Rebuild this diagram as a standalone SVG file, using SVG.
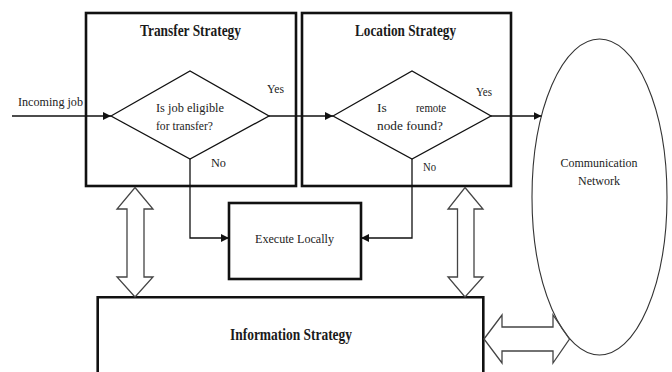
<svg xmlns="http://www.w3.org/2000/svg" width="672" height="372" viewBox="0 0 672 372">
<style>
.box{fill:none;stroke:#111;stroke-width:2.6}
.dia{fill:none;stroke:#111;stroke-width:1.3}
.ln{fill:none;stroke:#111;stroke-width:1.3}
.dbl{fill:none;stroke:#444;stroke-width:1.3;stroke-linejoin:miter}
.t{font-family:"Liberation Serif","Times New Roman",serif;fill:#222}
.title{font-family:"Liberation Serif","Times New Roman",serif;font-weight:bold;fill:#1a1a1a}
</style>
<defs>
<marker id="ah" viewBox="0 0 10 10" refX="10" refY="5" markerWidth="8" markerHeight="8" markerUnits="userSpaceOnUse" orient="auto">
<path d="M0,0 L10,5 L0,10 z" fill="#111"/>
</marker>
</defs>
<rect width="672" height="372" fill="#fff"/>

<g id="transfer">
<rect class="box" x="86" y="13" width="210" height="173"/>
<text class="title" x="140" y="36" font-size="16" textLength="101" lengthAdjust="spacingAndGlyphs">Transfer Strategy</text>
<polygon class="dia" points="111,116 190,71 269,116 190,159"/>
<text class="t" x="156" y="112" font-size="13.5" textLength="68" lengthAdjust="spacingAndGlyphs">Is job eligible</text>
<text class="t" x="156" y="130" font-size="13.5" textLength="57" lengthAdjust="spacingAndGlyphs">for transfer?</text>
<text class="t" x="267" y="93" font-size="13.5" textLength="17" lengthAdjust="spacingAndGlyphs">Yes</text>
<text class="t" x="211" y="167" font-size="13.5" textLength="15" lengthAdjust="spacingAndGlyphs">No</text>
</g>

<g id="location">
<rect class="box" x="302" y="13" width="209" height="173"/>
<text class="title" x="355" y="36" font-size="16" textLength="101" lengthAdjust="spacingAndGlyphs">Location Strategy</text>
<polygon class="dia" points="333,116 412,71 491,116 412,159"/>
<text class="t" y="112" font-size="13.5"><tspan x="377">Is</tspan><tspan x="416" textLength="30" lengthAdjust="spacingAndGlyphs">remote</tspan></text>
<text class="t" x="377" y="130" font-size="13.5" textLength="66" lengthAdjust="spacingAndGlyphs">node found?</text>
<text class="t" x="476" y="96" font-size="13.5" textLength="16" lengthAdjust="spacingAndGlyphs">Yes</text>
<text class="t" x="423" y="171" font-size="13.5" textLength="13" lengthAdjust="spacingAndGlyphs">No</text>
</g>

<g id="execute">
<rect class="box" x="229" y="203" width="132" height="76"/>
<text class="t" x="255" y="243" font-size="13.5" textLength="79" lengthAdjust="spacingAndGlyphs">Execute Locally</text>
</g>

<g id="information">
<path class="box" d="M97.7,380 V297.3 H483.3 V380"/>
<text class="title" x="230" y="340" font-size="16" textLength="122" lengthAdjust="spacingAndGlyphs">Information Strategy</text>
</g>

<g id="network">
<ellipse cx="599.5" cy="197" rx="67.5" ry="158" fill="none" stroke="#333" stroke-width="1.1"/>
<text class="t" x="599" y="167" font-size="12.5" text-anchor="middle" textLength="77" lengthAdjust="spacingAndGlyphs">Communication</text>
<text class="t" x="599" y="185" font-size="12.5" text-anchor="middle" textLength="42" lengthAdjust="spacingAndGlyphs">Network</text>
</g>

<g id="incoming">
<text class="t" x="18" y="106" font-size="13.5" textLength="65" lengthAdjust="spacingAndGlyphs">Incoming job</text>
</g>

<g id="connectors">
<line class="ln" x1="12" y1="116" x2="111" y2="116" marker-end="url(#ah)"/>
<line class="ln" x1="269" y1="116" x2="333" y2="116" marker-end="url(#ah)"/>
<line class="ln" x1="491" y1="116" x2="541.5" y2="116" marker-end="url(#ah)"/>
<polyline class="ln" points="190,159 190,238 229,238" marker-end="url(#ah)"/>
<polyline class="ln" points="412,159 412,238 361,238" marker-end="url(#ah)"/>
<polygon class="dbl" points="135,187.5 153,209 144,209 144,277 153,277 135,297 117,277 127,277 127,209 117,209"/>
<polygon class="dbl" points="465,187.5 483,209 474,209 474,277 483,277 465,297 448,277 457.5,277 457.5,209 448,209"/>
<polygon class="dbl" points="484,339 502,315 502,327 553,327 553,315 569.5,339 553,363 553,351 502,351 502,363"/>
</g>
</svg>
